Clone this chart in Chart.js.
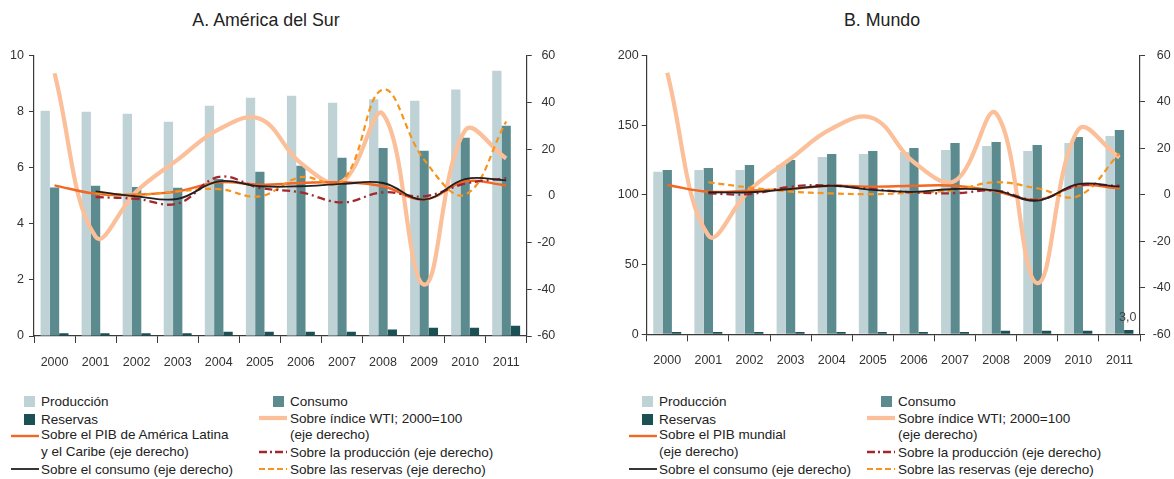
<!DOCTYPE html>
<html lang="es">
<head>
<meta charset="utf-8">
<title>Petróleo: producción, consumo y reservas</title>
<script src="https://cdn.jsdelivr.net/npm/chart.js@4.4.1/dist/chart.umd.min.js"></script>
<style>
    html, body { margin: 0; padding: 0; width: 1174px; height: 479px; overflow: hidden; background: #fff;
        font-family: "Liberation Sans", Arial, sans-serif; color: #222; }
    canvas { position: absolute; top: 0; }
    #graficoSur { left: 0; }
    #graficoMundo { left: 600px; }
    .titulo { position: absolute; top: 10px; font-size: 17.8px; line-height: 20px; transform: translateX(-50%); white-space: nowrap; color: #222; }
    .ley { position: absolute; font-size: 13.5px; line-height: 17px; white-space: nowrap; color: #222; }
    .cuadro { position: absolute; width: 11px; height: 11px; }
    svg.linea { position: absolute; }
</style>
</head>
<body>
<div class="titulo" style="left:266px">A. América del Sur</div>
<div class="titulo" style="left:882px">B. Mundo</div>
<canvas id="graficoSur" width="580" height="380"></canvas>
<canvas id="graficoMundo" width="600" height="380"></canvas>
<div id="leyendas"></div>
<script>
const anios = ['2000', '2001', '2002', '2003', '2004', '2005', '2006', '2007', '2008', '2009', '2010', '2011'];

// A. América del Sur (eje izquierdo)
const produccionSur = [8.04, 8.0, 7.93, 7.64, 8.21, 8.5, 8.57, 8.32, 8.45, 8.39, 8.79, 9.46];
const consumoSur = [5.3, 5.36, 5.32, 5.29, 5.6, 5.86, 6.07, 6.36, 6.71, 6.61, 7.07, 7.5];
const reservasSur = [0.1, 0.1, 0.1, 0.1, 0.15, 0.15, 0.15, 0.15, 0.23, 0.29, 0.29, 0.37];
// A. eje derecho
const pibSur = [4.5, 0.9, 0.5, 1.9, 5.8, 4.8, 5.5, 5.8, 4.1, -1.6, 6.2, 4.5];
const sobreConsumoSur = [null, 1.9, -0.2, -1.3, 6.2, 4.1, 4.1, 5.1, 5.5, -1.6, 7.2, 6.6];
const sobreProduccionSur = [null, -0.5, -1.3, -3.3, 8.1, 3.4, 1.5, -2.8, 1.5, -0.2, 5.2, 7.6];
const sobreReservasSur = [null, 1.2, 0.5, 1.9, 2.9, -0.2, 8, 6, 45.5, 15.5, 0.5, 31.8];

// B. Mundo (eje izquierdo)
const produccionMundo = [116.5, 117.8, 117.8, 121.4, 127.1, 129.2, 130.7, 132.1, 135, 131.4, 137.1, 142.2];
const consumoMundo = [117.8, 119.2, 121.4, 125, 129.2, 131.4, 133.6, 137.1, 137.8, 135.7, 141.4, 146.4];
const reservasMundo = [1.7, 1.7, 1.7, 1.7, 1.7, 1.7, 1.7, 1.7, 2.6, 2.6, 2.6, 3.0];
// B. eje derecho
const pibMundo = [4.2, 1.3, 1.8, 2.5, 3.9, 3.5, 3.9, 3.9, 1.4, -2.2, 4.0, 2.8];
const sobreConsumoMundo = [null, 1.1, 1.1, 2.5, 3.9, 2.1, 1.3, 2.5, 1.8, -2.5, 4.6, 3.5];
const sobreProduccionMundo = [null, 0.6, 0.3, 3.5, 4.0, 2.4, 1.0, 0.7, 1.8, -2.2, 4.0, 3.9];
const sobreReservasMundo = [null, 5.4, 3.1, 1.4, 0.6, 0.3, 0.9, 2.1, 5.4, 2.8, -0.5, 17.8];

// índice WTI (igual en ambos paneles)
const indiceWTI = [52.5, -17.5, 2, 15.5, 28.5, 33, 14, 6, 35, -38, 28, 16];

const colores = {
    produccion: '#bfd3d6',
    consumo: '#5b8b8f',
    reservas: '#1b5155',
    wti: '#fbbf9a',
    pib: '#f26722',
    lConsumo: '#231f20',
    lProduccion: '#a3282e',
    lReservas: '#f7941d',
    eje: '#3a3a3a'
};

const fuente = { family: "'Liberation Sans', Arial, sans-serif", size: 12.5 };

// etiqueta de dato sobre la ultima barra de reservas
const etiquetaFinal = {
    id: 'etiquetaFinal',
    afterDatasetsDraw(chart, args, opts) {
        if (!opts.texto) return;
        const meta = chart.getDatasetMeta(opts.indice);
        const barra = meta.data[meta.data.length - 1];
        const ctx = chart.ctx;
        ctx.save();
        ctx.font = '12.5px "Liberation Sans", Arial, sans-serif';
        ctx.fillStyle = '#444';
        ctx.textAlign = 'center';
        ctx.fillText(opts.texto, barra.x - 1, barra.y - 9);
        ctx.restore();
    }
};

function crearGrafico(id, o) {
    const linea = (datos, color, ancho, guiones) => ({
        type: 'line', data: datos, borderColor: color, backgroundColor: color,
        borderWidth: ancho, borderDash: guiones || [], pointRadius: 0,
        tension: 0.4, fill: false, yAxisID: 'y1', order: 0
    });
    const barra = (datos, color) => ({
        type: 'bar', data: datos, backgroundColor: color, borderWidth: 0,
        categoryPercentage: 0.68, barPercentage: 1.0, yAxisID: 'y', order: 1
    });

    return new Chart(document.getElementById(id), {
        type: 'bar',
        data: {
            labels: anios,
            datasets: [
                linea(o.sobreConsumo, colores.lConsumo, 1.8),
                linea(o.sobreProduccion, colores.lProduccion, 2.3, [8, 4, 2, 4]),
                linea(o.sobreReservas, colores.lReservas, 2.2, [6, 4]),
                linea(o.pib, colores.pib, 2.4),
                linea(indiceWTI, colores.wti, 4.2),
                barra(o.produccion, colores.produccion),
                barra(o.consumo, colores.consumo),
                barra(o.reservas, colores.reservas)
            ]
        },
        options: {
            responsive: false,
            animation: false,
            events: [],
            layout: { padding: o.relleno },
            plugins: {
                legend: { display: false },
                tooltip: { enabled: false },
                etiquetaFinal: { texto: o.etiqueta, indice: 7 }
            },
            scales: {
                x: {
                    grid: { display: true, drawOnChartArea: false, offset: true, tickLength: 7, color: colores.eje },
                    border: { color: colores.eje, width: 1.2 },
                    ticks: { font: fuente, color: '#333', padding: 12, maxRotation: 0, autoSkip: false },
                    afterFit: s => { s.height = o.altoX; }
                },
                y: {
                    position: 'left', min: 0, max: o.maxIzq,
                    grid: { drawOnChartArea: false, tickLength: 5, color: colores.eje },
                    border: { color: colores.eje, width: 1.2 },
                    ticks: { stepSize: o.pasoIzq, font: fuente, color: '#333', padding: o.relIzq },
                    afterFit: s => { s.width = o.anchoIzq; }
                },
                y1: {
                    position: 'right', min: -60, max: 60,
                    grid: { drawOnChartArea: false, tickLength: 5, color: colores.eje },
                    border: { color: colores.eje, width: 1.2 },
                    ticks: { stepSize: 20, font: fuente, color: '#333', padding: 9, crossAlign: 'far' },
                    afterFit: s => { s.width = o.anchoDer; }
                }
            }
        },
        plugins: [etiquetaFinal]
    });
}

crearGrafico('graficoSur', {
    produccion: produccionSur, consumo: consumoSur, reservas: reservasSur,
    pib: pibSur, sobreConsumo: sobreConsumoSur, sobreProduccion: sobreProduccionSur, sobreReservas: sobreReservasSur,
    maxIzq: 10, pasoIzq: 2, relIzq: 5,
    anchoIzq: 34, anchoDer: 28.6, altoX: 44,
    relleno: { top: 55.7, right: 24.7, bottom: 0, left: 0 }
});

crearGrafico('graficoMundo', {
    produccion: produccionMundo, consumo: consumoMundo, reservas: reservasMundo,
    pib: pibMundo, sobreConsumo: sobreConsumoMundo, sobreProduccion: sobreProduccionMundo, sobreReservas: sobreReservasMundo,
    maxIzq: 200, pasoIzq: 50, relIzq: 3,
    anchoIzq: 46.7, anchoDer: 30.7, altoX: 45.7,
    relleno: { top: 55.3, right: 29.3, bottom: 0, left: 0 },
    etiqueta: '3,0'
});

// Leyendas en HTML
function marcadorLinea(color, ancho, guiones) {
    return '<svg class="linea" width="28" height="8"><line x1="0" y1="4" x2="28" y2="4" stroke="' + color +
        '" stroke-width="' + ancho + '"' + (guiones ? ' stroke-dasharray="' + guiones + '"' : '') + '/></svg>';
}

function crearLeyenda(dx1, dx2, textoPib) {
    const cont = document.getElementById('leyendas');
    let html = '';
    const texto = (x, y, t) => { html += '<div class="ley" style="left:' + x + 'px;top:' + (y - 8.5) + 'px">' + t + '</div>'; };
    const cuadro = (x, y, c) => { html += '<div class="cuadro" style="left:' + x + 'px;top:' + (y - 5.5) + 'px;background:' + c + '"></div>'; };
    const lineaL = (x, y, m) => { html += m.replace('class="linea"', 'class="linea" style="left:' + x + 'px;top:' + (y - 4) + 'px"'); };

    // columna 1
    cuadro(24 + dx1, 401, colores.produccion); texto(41 + dx1, 401, 'Producción');
    cuadro(24 + dx1, 419, colores.reservas); texto(41 + dx1, 419, 'Reservas');
    lineaL(11 + dx1, 436, marcadorLinea(colores.pib, 2.4));
    texto(41 + dx1, 434, textoPib[0]); texto(41 + dx1, 451, textoPib[1]);
    lineaL(11 + dx1, 469, marcadorLinea(colores.lConsumo, 1.8));
    texto(41 + dx1, 469, 'Sobre el consumo (eje derecho)');

    // columna 2
    cuadro(273 + dx2, 401, colores.consumo); texto(290 + dx2, 401, 'Consumo');
    lineaL(259 + dx2, 418, marcadorLinea(colores.wti, 4.2));
    texto(290 + dx2, 418, 'Sobre índice WTI; 2000=100'); texto(290 + dx2, 434, '(eje derecho)');
    lineaL(259 + dx2, 452, marcadorLinea(colores.lProduccion, 2.3, '8,3,2,3'));
    texto(290 + dx2, 452, 'Sobre la producción (eje derecho)');
    lineaL(259 + dx2, 469, marcadorLinea(colores.lReservas, 2.2, '6,3'));
    texto(290 + dx2, 469, 'Sobre las reservas (eje derecho)');

    cont.insertAdjacentHTML('beforeend', html);
}

crearLeyenda(0, 0, ['Sobre el PIB de América Latina', 'y el Caribe (eje derecho)']);
crearLeyenda(618, 608, ['Sobre el PIB mundial', '(eje derecho)']);
</script>
</body>
</html>
